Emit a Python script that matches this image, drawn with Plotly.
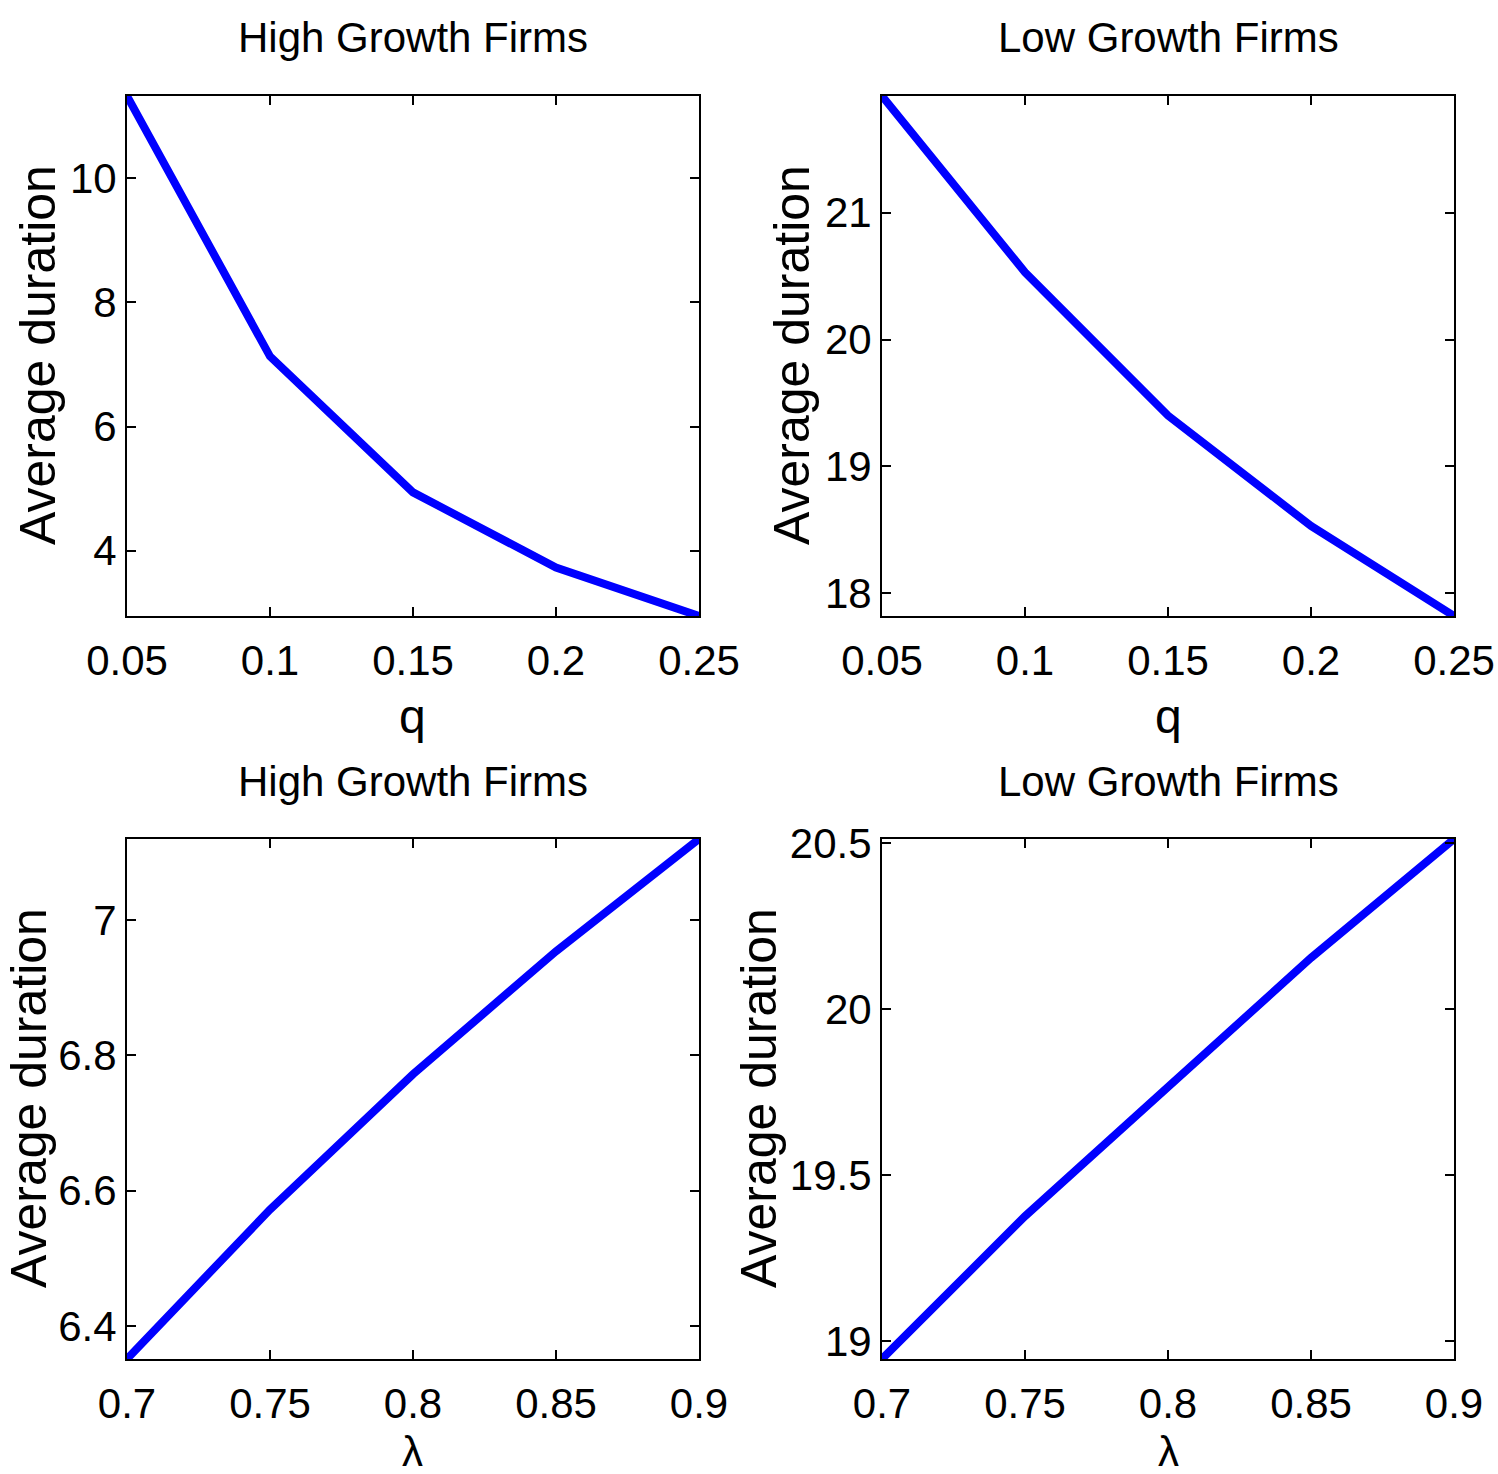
import plotly.graph_objects as go

q_vals = [0.05, 0.10, 0.15, 0.20, 0.25]
lam_vals = [0.70, 0.75, 0.80, 0.85, 0.90]
high_q = [11.32, 7.13, 4.94, 3.73, 2.95]
low_q = [21.92, 20.53, 19.40, 18.53, 17.82]
high_lam = [6.351, 6.572, 6.772, 6.954, 7.12]
low_lam = [18.946, 19.376, 19.765, 20.154, 20.512]

q_ticks = [0.05, 0.1, 0.15, 0.2, 0.25]
q_ticktext = ["0.05", "0.1", "0.15", "0.2", "0.25"]
lam_ticks = [0.7, 0.75, 0.8, 0.85, 0.9]
lam_ticktext = ["0.7", "0.75", "0.8", "0.85", "0.9"]
yt_hq = [4, 6, 8, 10]
yt_lq = [18, 19, 20, 21]
yt_hl = [6.4, 6.6, 6.8, 7.0]
yt_hl_text = ["6.4", "6.6", "6.8", "7"]
yt_ll = [19, 19.5, 20, 20.5]
yt_ll_text = ["19", "19.5", "20", "20.5"]

W, H = 1498, 1474
FONT = "Liberation Sans Narrow, Arial Narrow, Liberation Sans, Arial, sans-serif"

panels = [
    dict(x=q_vals, y=high_q, xd=(127, 699), yd=(96, 616), xt=q_ticks, xtt=q_ticktext,
         yt=yt_hq, ytt=[str(v) for v in yt_hq], title="High Growth Firms", xlab="q", ylx=38),
    dict(x=q_vals, y=low_q, xd=(882, 1454), yd=(96, 616), xt=q_ticks, xtt=q_ticktext,
         yt=yt_lq, ytt=[str(v) for v in yt_lq], title="Low Growth Firms", xlab="q", ylx=792),
    dict(x=lam_vals, y=high_lam, xd=(127, 699), yd=(839, 1359), xt=lam_ticks, xtt=lam_ticktext,
         yt=yt_hl, ytt=yt_hl_text, title="High Growth Firms", xlab="λ", ylx=29),
    dict(x=lam_vals, y=low_lam, xd=(882, 1454), yd=(839, 1359), xt=lam_ticks, xtt=lam_ticktext,
         yt=yt_ll, ytt=yt_ll_text, title="Low Growth Firms", xlab="λ", ylx=759),
]

fig = go.Figure()
annotations = []
for i, p in enumerate(panels):
    n = "" if i == 0 else str(i + 1)
    fig.add_trace(go.Scatter(x=p["x"], y=p["y"], mode="lines",
                             line=dict(color="#0000FF", width=8),
                             xaxis="x" + n, yaxis="y" + n, showlegend=False,
                             cliponaxis=False))
    x0, x1 = p["xd"]
    y0, y1 = p["yd"]
    common = dict(showline=True, linecolor="black", linewidth=2, mirror="ticks",
                  ticks="inside", ticklen=9, tickwidth=1.5, tickcolor="black",
                  showgrid=False, zeroline=False, automargin=False,
                  tickfont=dict(family=FONT, size=42, color="black"))
    fig.layout["xaxis" + n] = dict(domain=[x0 / W, x1 / W], anchor="y" + n,
                                   range=[min(p["x"]), max(p["x"])],
                                   tickvals=p["xt"], ticktext=p["xtt"],
                                   ticklabelstandoff=7, **common)
    fig.layout["yaxis" + n] = dict(domain=[1 - y1 / H, 1 - y0 / H], anchor="x" + n,
                                   range=[min(p["y"]), max(p["y"])],
                                   tickvals=p["yt"], ticktext=p["ytt"],
                                   ticklabelstandoff=0, **common)
    cx = (x0 + x1) / 2
    annotations.append(dict(text=p["title"], x=cx / W, y=1 - (y0 - 58) / H,
                            xref="paper", yref="paper", showarrow=False,
                            xanchor="center", yanchor="middle",
                            font=dict(family=FONT, size=42, color="black")))
    if p["xlab"] == "q":
        annotations.append(dict(text=p["xlab"], x=cx / W, y=1 - 716 / H,
                                xref="paper", yref="paper", showarrow=False,
                                xanchor="center", yanchor="middle",
                                font=dict(family=FONT, size=48, color="black")))
    else:
        annotations.append(dict(text=p["xlab"], x=cx / W, y=0, yshift=-3,
                                xref="paper", yref="paper", showarrow=False,
                                xanchor="center", yanchor="bottom",
                                font=dict(family=FONT, size=42, color="black")))
    annotations.append(dict(text="Average duration", x=p["ylx"] / W,
                            y=1 - ((y0 + y1) / 2 - 1) / H,
                            xref="paper", yref="paper", showarrow=False, textangle=-90,
                            xanchor="center", yanchor="middle",
                            font=dict(family=FONT, size=50, color="black")))

fig.update_layout(width=W, height=H, margin=dict(l=0, r=0, t=0, b=0),
                  paper_bgcolor="white", plot_bgcolor="white",
                  annotations=annotations)
fig.write_html("out.html", config={"displayModeBar": False},
               post_script="document.body.style.margin='0';document.body.style.overflow='hidden';")
